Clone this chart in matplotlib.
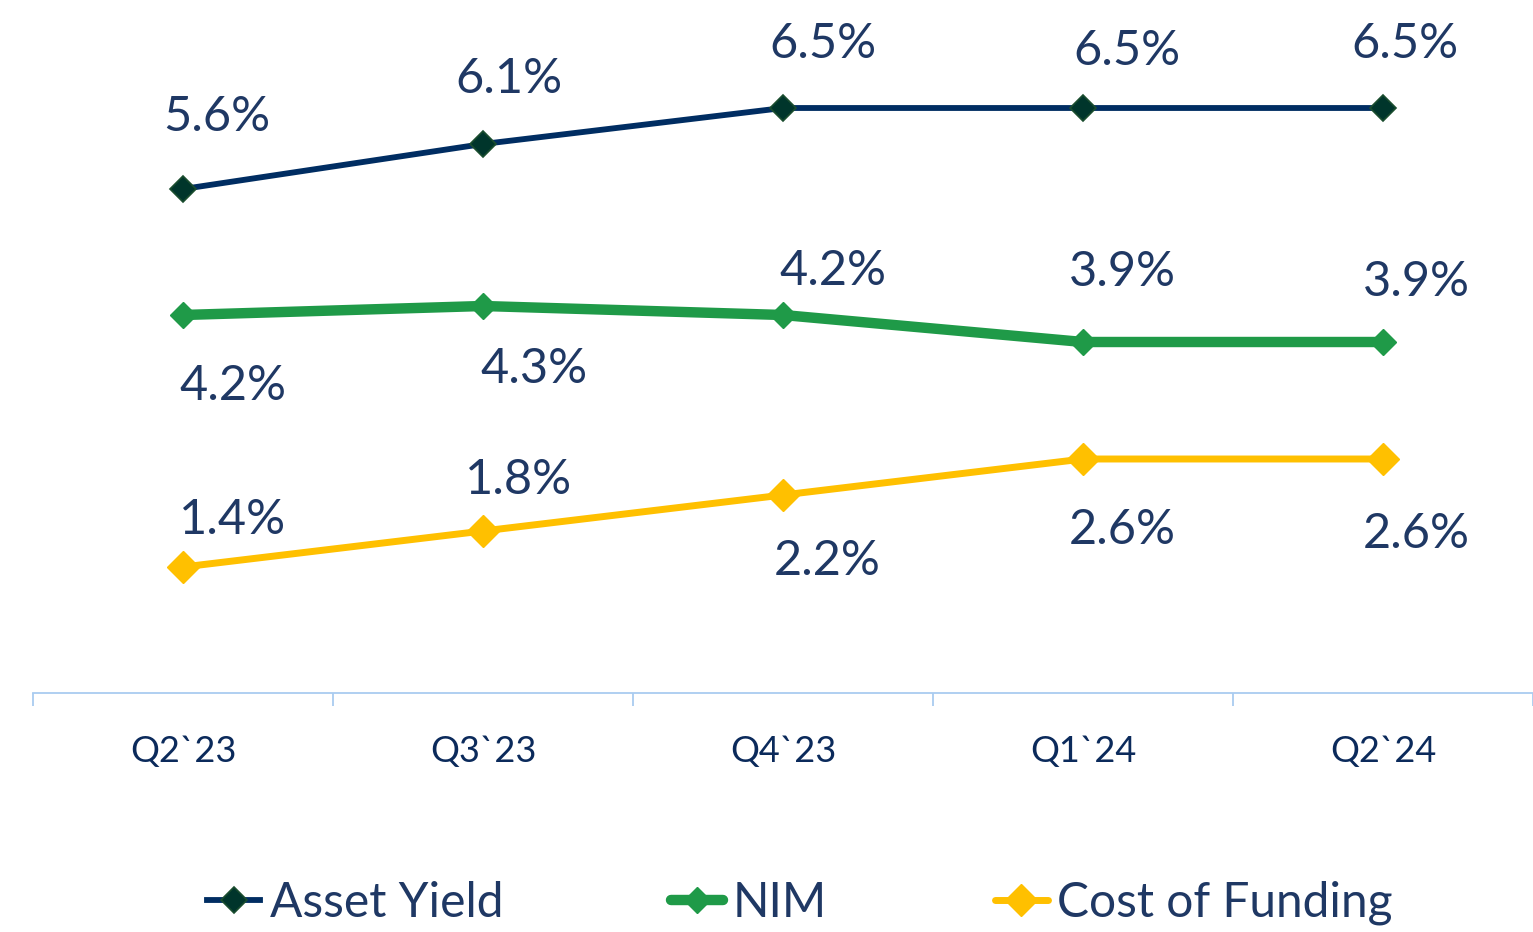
import matplotlib
matplotlib.use('Agg')
from matplotlib import pyplot as plt

# data
quarters = ['Q2`23', 'Q3`23', 'Q4`23', 'Q1`24', 'Q2`24']
asset_yield = [5.6, 6.1, 6.5, 6.5, 6.5]
nim = [4.2, 4.3, 4.2, 3.9, 3.9]
cost_of_funding = [1.4, 1.8, 2.2, 2.6, 2.6]

# label offsets (pixels) so labels sit like the original
ay_off = [(34, 72), (26, 65), (40, 64), (44, 57), (22, 64)]
nim_off = [(50, -71), (51, -63), (50, 44), (39, 70), (33, 60)]
cof_off = [(50, 47), (36, 51), (44, -66), (39, -71), (33, -75)]

plt.rcParams['font.family'] = ['Lato', 'DejaVu Sans']
txt_col = '#1F3864'

fig = plt.figure(figsize=(15.33, 9.32), dpi=100)
ax = fig.add_axes([33 / 1533, 239 / 932, 1 - 33 / 1533, 1 - 239 / 932])

x = list(range(len(quarters)))
ax.plot(x, asset_yield, color='#002D62', lw=4.2, marker='D', ms=13,
        mfc='#00352B', mec='#1A4D2E', mew=1.2, label='Asset Yield', zorder=3)
ax.plot(x, nim, color='#1F9A48', lw=7.5, marker='D', ms=13,
        mfc='#1F9A48', mec='#1F9A48', label='NIM', solid_capstyle='round', zorder=3)
ax.plot(x, cost_of_funding, color='#FFC000', lw=5, marker='D', ms=16,
        mfc='#FFC000', mec='#FFC000', label='Cost of Funding', solid_capstyle='round', zorder=3)

for vals, offs in [(asset_yield, ay_off), (nim, nim_off), (cost_of_funding, cof_off)]:
    for i, v in enumerate(vals):
        ax.annotate(f'{v:.1f}%', (i, v), xytext=offs[i], textcoords='offset pixels',
                    ha='center', va='center', fontsize=35, color=txt_col)

ax.set_xlim(-0.5, 4.5)
ax.set_ylim(0, 7.7)
for s in ['left', 'right', 'top']:
    ax.spines[s].set_visible(False)
ax.spines['bottom'].set_color('#A9CCF0')
ax.spines['bottom'].set_linewidth(1.3)
ax.set_yticks([])
ax.set_xticks(x)
ax.set_xticklabels(quarters, fontsize=26, color='#0B2A5B')
ax.set_xticks([i - 0.5 for i in range(len(quarters) + 1)], minor=True)
ax.tick_params(axis='x', which='major', length=0, pad=30)
ax.tick_params(axis='x', which='minor', length=9, color='#A9CCF0', width=1.3)

leg = fig.legend(loc='center', bbox_to_anchor=(800 / 1533, 1 - 903 / 932), ncol=3,
                 frameon=False, fontsize=34.5, handlelength=1.1, handletextpad=0.2,
                 columnspacing=3.5)
for t in leg.get_texts():
    t.set_color(txt_col)

plt.savefig('out.png', dpi=100)
